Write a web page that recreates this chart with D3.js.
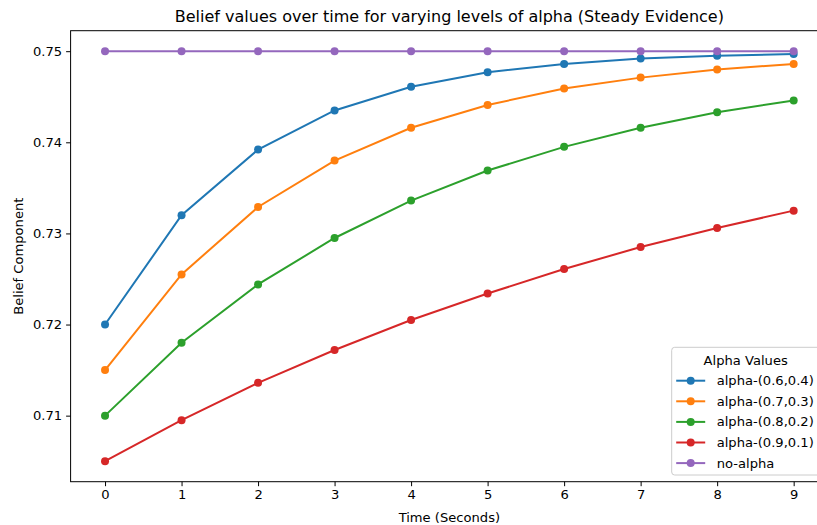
<!DOCTYPE html>
<html>
<head>
<meta charset="utf-8">
<script src="https://cdn.jsdelivr.net/npm/d3@7"></script>
<style>
  body { margin: 0; background: #fff; }
  svg { font-family: "DejaVu Sans", sans-serif; }
</style>
</head>
<body>
<div id="chart"></div>
<script>
const times = [0, 1, 2, 3, 4, 5, 6, 7, 8, 9];
const seriesNames = ["alpha-(0.6,0.4)", "alpha-(0.7,0.3)", "alpha-(0.8,0.2)", "alpha-(0.9,0.1)", "no-alpha"];
const alpha64 = [0.72, 0.732, 0.7392, 0.7435, 0.7461, 0.7477, 0.7486, 0.7492, 0.7495, 0.7497];
const alpha73 = [0.715, 0.7255, 0.7329, 0.738, 0.7416, 0.7441, 0.7459, 0.7471, 0.748, 0.7486];
const alpha82 = [0.71, 0.718, 0.7244, 0.7295, 0.7336, 0.7369, 0.7395, 0.7416, 0.7433, 0.7446];
const alpha91 = [0.705, 0.7095, 0.7136, 0.7172, 0.7205, 0.7234, 0.7261, 0.7285, 0.7306, 0.7325];
const noAlpha = [0.75, 0.75, 0.75, 0.75, 0.75, 0.75, 0.75, 0.75, 0.75, 0.75];
const yTicks = [0.71, 0.72, 0.73, 0.74, 0.75];
const colors = ["#1f77b4", "#ff7f0e", "#2ca02c", "#d62728", "#9467bd"];

const series = [alpha64, alpha73, alpha82, alpha91, noAlpha];

const W = 817, H = 525;
const margin = { top: 30.7, left: 70.6 },
      plotW = 757.5,
      plotH = 451;
const fs = "13.1px";

const svg = d3.select("#chart").append("svg")
    .attr("width", W)
    .attr("height", H);

const g = svg.append("g")
    .attr("transform", `translate(${margin.left},${margin.top})`);

// matplotlib style 5% margins
const x = d3.scaleLinear().domain([-0.45, 9.45]).range([0, plotW]);
const y = d3.scaleLinear().domain([0.70275, 0.75225]).range([plotH, 0]);

// lines + markers
const line = d3.line().x((d, i) => x(times[i])).y(d => y(d));
series.forEach((vals, k) => {
    g.append("path")
        .datum(vals)
        .attr("d", line)
        .attr("fill", "none")
        .attr("stroke", colors[k])
        .attr("stroke-width", 2);
    g.selectAll(".pt" + k)
        .data(vals)
        .enter().append("circle")
        .attr("cx", (d, i) => x(times[i]))
        .attr("cy", d => y(d))
        .attr("r", 4)
        .attr("fill", colors[k]);
});

// axes
const xAxis = g.append("g")
    .attr("transform", `translate(0,${plotH})`)
    .call(d3.axisBottom(x).tickValues(times).tickFormat(d3.format("d")).tickSize(4.5).tickPadding(4));
const yAxis = g.append("g")
    .call(d3.axisLeft(y).tickValues(yTicks).tickFormat(d3.format(".2f")).tickSize(4.5).tickPadding(4));
[xAxis, yAxis].forEach(a => {
    a.select(".domain").remove();
    a.selectAll("text").attr("font-size", fs).attr("fill", "#000").attr("font-family", "DejaVu Sans");
    a.selectAll("line").attr("stroke", "#000").attr("stroke-width", 1);
});

// spines
g.append("rect")
    .attr("width", plotW).attr("height", plotH)
    .attr("fill", "none").attr("stroke", "#000").attr("stroke-width", 1);

// title and labels
svg.append("text")
    .attr("x", margin.left + plotW / 2).attr("y", 22)
    .attr("text-anchor", "middle")
    .attr("font-size", "16px")
    .text("Belief values over time for varying levels of alpha (Steady Evidence)");

svg.append("text")
    .attr("x", margin.left + plotW / 2).attr("y", 522)
    .attr("text-anchor", "middle")
    .attr("font-size", fs)
    .text("Time (Seconds)");

svg.append("text")
    .attr("transform", `translate(22.5,${margin.top + plotH / 2}) rotate(-90)`)
    .attr("text-anchor", "middle")
    .attr("font-size", fs)
    .text("Belief Component");

// legend
const legend = g.append("g")
    .attr("transform", `translate(${671.7 - margin.left},${347.3 - margin.top})`);
legend.append("rect")
    .attr("width", 151).attr("height", 127.7)
    .attr("rx", 3)
    .attr("fill", "#fff").attr("fill-opacity", 0.8)
    .attr("stroke", "#cccccc");
legend.append("text")
    .attr("x", 74).attr("y", 17.5)
    .attr("text-anchor", "middle")
    .attr("font-size", fs)
    .text("Alpha Values");
const items = legend.selectAll(".item")
    .data(seriesNames)
    .enter().append("g")
    .attr("transform", (d, i) => `translate(0,${33.4 + i * 20.6})`);
items.append("line")
    .attr("x1", 4.5).attr("x2", 33.5)
    .attr("stroke", (d, i) => colors[i]).attr("stroke-width", 2);
items.append("circle")
    .attr("cx", 19).attr("r", 4)
    .attr("fill", (d, i) => colors[i]);
items.append("text")
    .attr("x", 45).attr("dy", "0.35em")
    .attr("font-size", fs)
    .text(d => d);
</script>
</body>
</html>
